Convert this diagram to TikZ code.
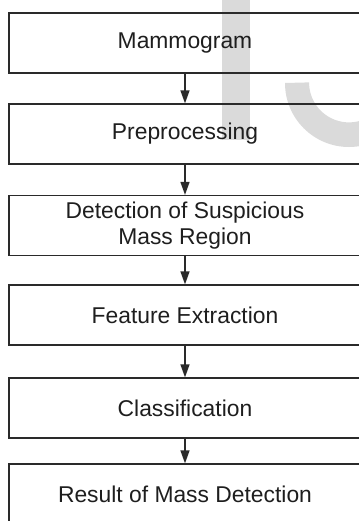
\documentclass[tikz,border=0pt]{standalone}
\usepackage{fontspec}
\setmainfont{Liberation Sans}
\usetikzlibrary{arrows.meta}

\definecolor{wmark}{HTML}{DADADA}
\definecolor{inkline}{HTML}{2A2A2A}
\definecolor{inktext}{HTML}{1E1E1E}

\tikzset{
  stage/.style={draw=inkline, line width=1.1pt, minimum width=10.56cm, minimum height=1.8cm,
    align=center, text=inktext, font=\fontsize{19.5}{21.5}\selectfont},
  flow/.style={draw=inkline, line width=1.2pt, -{Triangle[length=3.9mm,width=2.7mm]}}
}

\begin{document}
\begin{tikzpicture}[x=0.03cm, y=-0.03cm]
\useasboundingbox (0,0) rectangle (359,521);

% Watermark letters behind the chart
\fill[wmark] (222,0) rectangle (250,140);
\fill[wmark] (285,83) arc[start angle=180, end angle=60, radius=64]
  -- ++(-12,-21.4) arc[start angle=60, end angle=180, radius=40] -- cycle;

% Stages of the chart
\node[stage] (mammo) at (185,43) {Mammogram};
\node[stage] (prep) at (185,134) {Preprocessing};
\node[stage] (detect) at (185,225.5) {Detection of Suspicious\\Mass Region};
\node[stage] (feat) at (185,315) {Feature Extraction};
\node[stage] (classif) at (185,408) {Classification};
\node[stage] (result) at (185,494) {Result of Mass Detection};

% Arrows between stages
\draw[flow] (mammo) -- (prep);
\draw[flow] (prep) -- (detect);
\draw[flow] (detect) -- (feat);
\draw[flow] (feat) -- (classif);
\draw[flow] (classif) -- (result);
\end{tikzpicture}
\end{document}
